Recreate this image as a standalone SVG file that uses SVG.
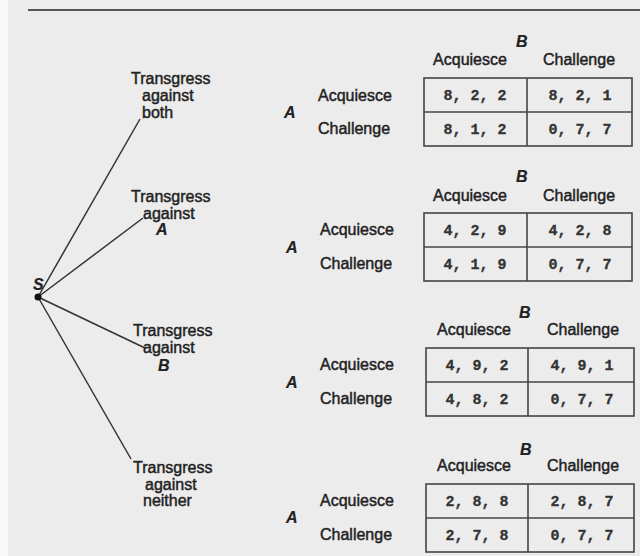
<svg xmlns="http://www.w3.org/2000/svg" width="640" height="556" viewBox="0 0 640 556">
<style>
.t{font-family:"Liberation Sans",Arial,sans-serif;font-size:16px;fill:#222;stroke:#222;stroke-width:0.45}
.i{font-style:italic;font-weight:bold;stroke-width:0.2}
.m{font-family:"Liberation Mono","Courier New",monospace;font-size:15px;font-weight:bold;fill:#333;stroke:#333;stroke-width:0.3;text-anchor:middle}
.c{text-anchor:middle}
.box{fill:none;stroke:#444;stroke-width:1.6}
.ln{stroke:#333;stroke-width:1.5;fill:none}
</style>
<rect x="0" y="0" width="640" height="556" fill="#f8f8f8"/>
<rect x="8" y="0" width="632" height="556" fill="#ececec"/>
<line x1="28" y1="10" x2="640" y2="10" stroke="#555" stroke-width="2"/>

<g id="connectors">
<line class="ln" x1="38" y1="297" x2="140" y2="119"/>
<line class="ln" x1="38" y1="297" x2="143" y2="218"/>
<line class="ln" x1="38" y1="297" x2="145" y2="348"/>
<line class="ln" x1="38" y1="297" x2="131" y2="459"/>
</g>

<g id="node-S">
<circle cx="38" cy="297" r="3.5" fill="#111"/>
<text class="t i" x="33" y="290">S</text>
</g>

<g id="branch-both">
<text class="t" x="131" y="84">Transgress</text>
<text class="t" x="142" y="101">against</text>
<text class="t" x="142" y="118">both</text>
</g>
<g id="branch-A">
<text class="t" x="131" y="202">Transgress</text>
<text class="t" x="143" y="219">against</text>
<text class="t i" x="156" y="235">A</text>
</g>
<g id="branch-B">
<text class="t" x="133" y="336">Transgress</text>
<text class="t" x="143" y="353">against</text>
<text class="t i" x="158" y="371">B</text>
</g>
<g id="branch-neither">
<text class="t" x="133" y="473">Transgress</text>
<text class="t" x="145" y="490">against</text>
<text class="t" x="143" y="506">neither</text>
</g>

<g id="table-both">
<text class="t i" x="516" y="47">B</text>
<text class="t c" x="470" y="65">Acquiesce</text>
<text class="t c" x="579" y="65">Challenge</text>
<text class="t i" x="284" y="118">A</text>
<text class="t" x="318" y="101">Acquiesce</text>
<text class="t" x="318" y="134">Challenge</text>
<rect class="box" x="424" y="78" width="208" height="68"/>
<line class="box" x1="527" y1="78" x2="527" y2="146"/>
<line class="box" x1="424" y1="112" x2="632" y2="112"/>
<text class="m" x="475" y="100">8, 2, 2</text>
<text class="m" x="580" y="100">8, 2, 1</text>
<text class="m" x="475" y="134">8, 1, 2</text>
<text class="m" x="580" y="134">0, 7, 7</text>
</g>

<g id="table-A">
<text class="t i" x="516" y="182">B</text>
<text class="t c" x="470" y="201">Acquiesce</text>
<text class="t c" x="579" y="201">Challenge</text>
<text class="t i" x="286" y="253">A</text>
<text class="t" x="320" y="235">Acquiesce</text>
<text class="t" x="320" y="269">Challenge</text>
<rect class="box" x="424" y="213" width="208" height="68"/>
<line class="box" x1="527" y1="213" x2="527" y2="281"/>
<line class="box" x1="424" y1="247" x2="632" y2="247"/>
<text class="m" x="475" y="235">4, 2, 9</text>
<text class="m" x="580" y="235">4, 2, 8</text>
<text class="m" x="475" y="269">4, 1, 9</text>
<text class="m" x="580" y="269">0, 7, 7</text>
</g>

<g id="table-B">
<text class="t i" x="519" y="318">B</text>
<text class="t c" x="474" y="335">Acquiesce</text>
<text class="t c" x="583" y="335">Challenge</text>
<text class="t i" x="286" y="388">A</text>
<text class="t" x="320" y="370">Acquiesce</text>
<text class="t" x="320" y="404">Challenge</text>
<rect class="box" x="426" y="348" width="208" height="68"/>
<line class="box" x1="528" y1="348" x2="528" y2="416"/>
<line class="box" x1="426" y1="382" x2="634" y2="382"/>
<text class="m" x="477" y="370">4, 9, 2</text>
<text class="m" x="582" y="370">4, 9, 1</text>
<text class="m" x="477" y="404">4, 8, 2</text>
<text class="m" x="582" y="404">0, 7, 7</text>
</g>

<g id="table-neither">
<text class="t i" x="520" y="455">B</text>
<text class="t c" x="474" y="471">Acquiesce</text>
<text class="t c" x="583" y="471">Challenge</text>
<text class="t i" x="286" y="523">A</text>
<text class="t" x="320" y="506">Acquiesce</text>
<text class="t" x="320" y="540">Challenge</text>
<rect class="box" x="426" y="484" width="208" height="68"/>
<line class="box" x1="528" y1="484" x2="528" y2="552"/>
<line class="box" x1="426" y1="518" x2="634" y2="518"/>
<text class="m" x="477" y="506">2, 8, 8</text>
<text class="m" x="582" y="506">2, 8, 7</text>
<text class="m" x="477" y="540">2, 7, 8</text>
<text class="m" x="582" y="540">0, 7, 7</text>
</g>
</svg>
